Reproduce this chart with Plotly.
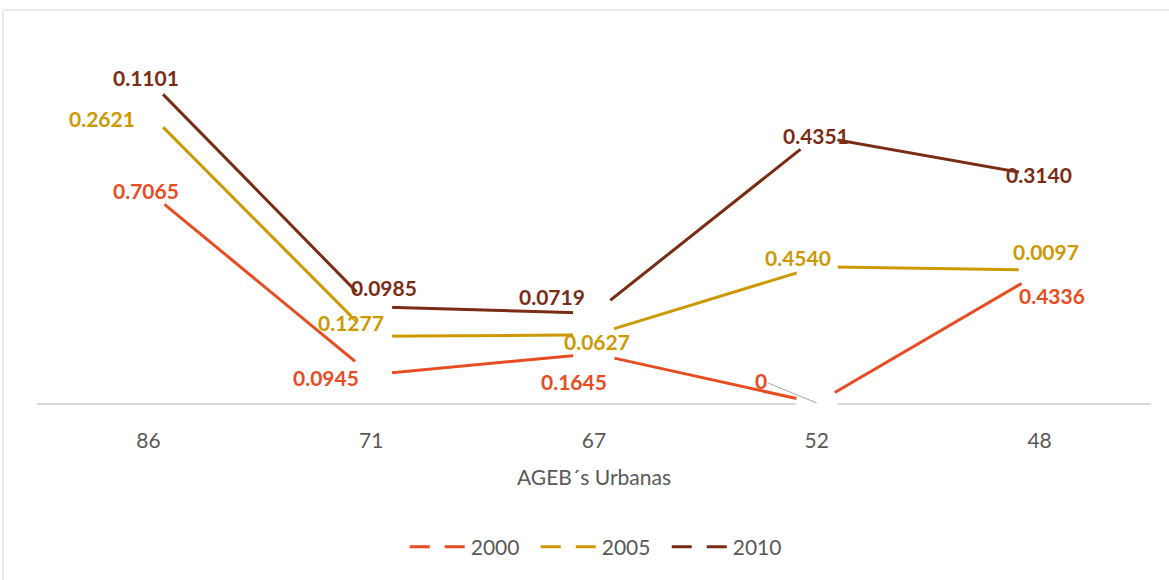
import numpy as np
import plotly.graph_objects as go

# ---- data -------------------------------------------------------------
categories = ["86", "71", "67", "52", "48"]
series_names = ["2000", "2005", "2010"]
v2000 = [0.7065, 0.0945, 0.1645, 0.0, 0.4336]
v2005 = [0.2621, 0.1277, 0.0627, 0.4540, 0.0097]
v2010 = [0.1101, 0.0985, 0.0719, 0.4351, 0.3140]

colors = ["#E84C22", "#CC9900", "#7A2C14"]
FONT = "Lato"

# label offsets (px) relative to each data point: (xshift, yshift)
label_offsets = [
    [(-2, 1), (-45, -3), (-20, -28), None, (12, -23)],
    [(-46, -6), (-20, 14), (3, -7), (-19, 9), (6, 19)],
    [(-2, 2), (13, 19), (-42, 17), (-1, 1), (-1, 1)],
]

values = np.array([v2000, v2005, v2010])
stacked = np.cumsum(values, axis=0)  # stacked line chart

fig = go.Figure()

for i, name in enumerate(series_names):
    fig.add_trace(go.Scatter(
        x=categories, y=stacked[i].tolist(), mode="lines+markers",
        line=dict(color=colors[i], width=3),
        marker=dict(size=42, color="white", line=dict(width=0)),
        cliponaxis=False, showlegend=False, hoverinfo="skip",
    ))

# legend entries (dashed symbols like the original)
for i, name in enumerate(series_names):
    fig.add_trace(go.Scatter(
        x=[None], y=[None], mode="lines", name=name,
        line=dict(color=colors[i], width=3, dash="20px,15px"),
    ))

annotations = []
for i in range(3):
    for j, cat in enumerate(categories):
        val = float(values[i][j])
        txt = f"<b>{val:.4f}</b>" if val != 0 else "<b>0</b>"
        off = label_offsets[i][j]
        # category position given by index (numeric-looking names would be read as indices)
        base = dict(x=j, y=float(stacked[i][j]), xref="x", yref="y", text=txt,
                    font=dict(family=FONT, size=21, color=colors[i]))
        if off is None:
            base.update(showarrow=True, arrowhead=0, arrowwidth=1,
                        arrowcolor="#A6A6A6", ax=-56, ay=-23, standoff=0)
        else:
            base.update(showarrow=False, xshift=off[0], yshift=off[1])
        annotations.append(base)

fig.update_layout(
    width=1169, height=580,
    margin=dict(l=37, r=18, t=43, b=177),
    paper_bgcolor="white", plot_bgcolor="white",
    font=dict(family=FONT, color="#595959"),
    xaxis=dict(
        type="category", range=[-0.5, 4.5],
        showline=True, linecolor="#D9D9D9", linewidth=1.5,
        showgrid=False, zeroline=False, ticks="",
        tickfont=dict(family=FONT, size=21, color="#595959"),
        ticklabelstandoff=18, layer="below traces",
        title=dict(text="AGEB´s Urbanas", standoff=19,
                   font=dict(family=FONT, size=21, color="#595959")),
    ),
    yaxis=dict(range=[0, 1.2], showticklabels=False, showgrid=False,
               zeroline=False, showline=False, ticks=""),
    legend=dict(orientation="h", x=0.5065, xanchor="center",
                y=-0.4, yanchor="middle", itemwidth=56,
                entrywidth=60, entrywidthmode="pixels",
                font=dict(family=FONT, size=21, color="#595959")),
    annotations=annotations,
    shapes=[dict(type="rect", xref="paper", yref="paper",
                 x0=-0.0305, x1=1.05, y0=-0.65, y1=1.0917,
                 line=dict(color="#D9D9D9", width=1), layer="below")],
)

fig.write_html("out.html", config={"displayModeBar": False},
               post_script="document.body.style.margin='0';")
